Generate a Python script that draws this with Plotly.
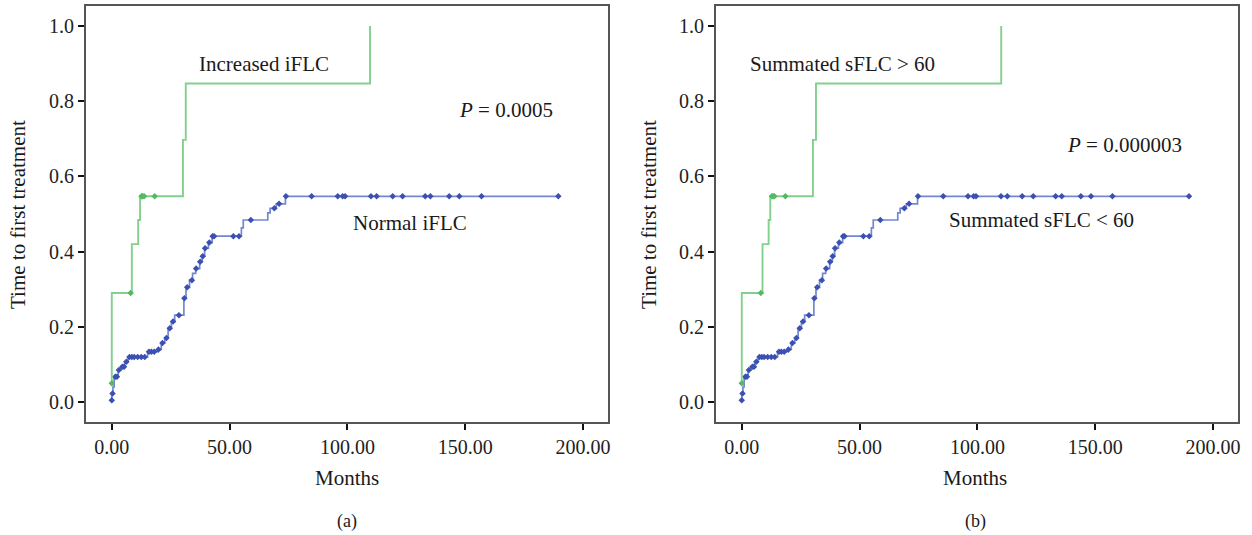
import numpy as np
import plotly.graph_objects as go

# ---------------- data ----------------
# Panel (a): increased iFLC (green) and normal iFLC (blue)
a_green_t = [0, 0, 8.5, 11.2, 12.0, 30.2, 31.4, 109.6]
a_green_y = [0.05, 0.29, 0.42, 0.484, 0.547, 0.697, 0.847, 1.0]
a_green_cens = [0, 8.0, 12.6, 13.0, 13.7, 18.2]

a_blue_t = [0, 0, 0.5, 1.0, 2.7, 3.8, 5.5, 6.9, 15.2, 19.6, 21.0, 22.5, 23.9, 25.3, 26.7,
            30.6, 31.5, 33.0, 34.3, 35.6, 37.3, 38.4, 39.4, 41.0, 42.6,
            55.0, 55.8, 66.2, 67.2, 69.8, 73.7, 189.5]
a_blue_y = [0.005, 0.023, 0.04, 0.067, 0.085, 0.094, 0.107, 0.12, 0.134, 0.14, 0.157, 0.17, 0.196, 0.214, 0.231,
            0.276, 0.305, 0.324, 0.342, 0.355, 0.373, 0.388, 0.409, 0.424, 0.441,
            0.463, 0.484, 0.503, 0.515, 0.527, 0.547, 0.547]
a_blue_cens = [0.0, 0.3, 1.5, 2.2, 3.0, 4.5, 5.2, 6.2, 7.5, 8.5, 9.5, 11.0, 12.5, 14.0, 15.8, 16.8, 18.0,
               19.8, 21.5, 23.2, 24.6, 26.0, 28.5, 30.8, 32.0, 34.0, 35.8, 37.5, 38.6, 39.6, 41.4,
               42.8, 43.4, 51.6, 54.0, 59.0, 69.0, 71.0, 73.9, 84.8, 95.9, 98.0, 99.0, 110.0, 112.4,
               119.2, 123.4, 133.0, 135.2, 143.2, 147.5, 156.9, 189.5]

# Panel (b): summated sFLC > 60 (green) and < 60 (blue)
b_green_t = [0, 0, 8.8, 11.4, 12.1, 30.2, 31.5, 110.1]
b_green_y = [0.05, 0.29, 0.42, 0.484, 0.547, 0.697, 0.847, 1.0]
b_green_cens = [0, 8.1, 12.8, 13.3, 13.8, 18.5]

b_blue_t = [0, 0, 0.5, 1.0, 2.7, 3.8, 5.5, 6.9, 15.2, 19.6, 21.0, 22.5, 23.9, 25.3, 26.7,
            30.6, 31.5, 33.0, 34.3, 35.6, 37.3, 38.4, 39.4, 41.0, 42.8,
            55.0, 55.8, 66.2, 67.2, 69.8, 74.6, 189.8]
b_blue_y = [0.005, 0.023, 0.04, 0.067, 0.085, 0.094, 0.107, 0.12, 0.134, 0.14, 0.157, 0.17, 0.196, 0.214, 0.231,
            0.276, 0.305, 0.324, 0.342, 0.355, 0.373, 0.388, 0.409, 0.424, 0.441,
            0.463, 0.484, 0.503, 0.515, 0.527, 0.547, 0.547]
b_blue_cens = [0.0, 0.3, 1.5, 2.2, 3.0, 4.5, 5.2, 6.2, 7.5, 8.5, 9.5, 11.0, 12.5, 14.0, 15.8, 16.8, 18.0,
               19.8, 21.5, 23.2, 24.6, 26.0, 28.5, 30.8, 32.0, 34.0, 35.8, 37.5, 38.6, 39.6, 41.4,
               43.0, 43.6, 51.6, 54.1, 58.8, 69.0, 71.0, 74.8, 85.5, 96.0, 98.4, 99.4, 110.0, 112.7,
               119.0, 123.7, 133.2, 135.8, 143.9, 148.2, 157.3, 189.8]

x_ticks = [0, 50, 100, 150, 200]
x_tick_labels = ["0.00", "50.00", "100.00", "150.00", "200.00"]
y_ticks = [0.0, 0.2, 0.4, 0.6, 0.8, 1.0]
y_tick_labels = ["0.0", "0.2", "0.4", "0.6", "0.8", "1.0"]

# ---------------- style ----------------
W, H = 1252, 535
FONT = "Liberation Serif"
GREEN_LINE = "rgb(130,208,140)"
GREEN_MARK = "rgb(85,185,100)"
BLUE_LINE = "rgb(115,135,208)"
BLUE_MARK = "rgb(60,80,178)"
AXIS = "#555555"

def step_value(ts, ys, t):
    ts = np.asarray(ts); ys = np.asarray(ys)
    idx = np.searchsorted(ts, t, side="left") - 1
    idx = np.clip(idx, 0, len(ys) - 1)
    return ys[idx]

fig = go.Figure()

def add_panel(xa, ya, gt, gy, gc, bt, by, bc):
    fig.add_trace(go.Scatter(x=bt, y=by, mode="lines", line=dict(color=BLUE_LINE, width=1.7, shape="hv"),
                             xaxis=xa, yaxis=ya, showlegend=False, hoverinfo="skip"))
    fig.add_trace(go.Scatter(x=bc, y=step_value(bt, by, bc), mode="markers",
                             marker=dict(symbol="diamond", size=5, color=BLUE_MARK),
                             xaxis=xa, yaxis=ya, showlegend=False, hoverinfo="skip"))
    fig.add_trace(go.Scatter(x=gt, y=gy, mode="lines", line=dict(color=GREEN_LINE, width=1.9, shape="hv"),
                             xaxis=xa, yaxis=ya, showlegend=False, hoverinfo="skip"))
    fig.add_trace(go.Scatter(x=gc, y=step_value(gt, gy, gc), mode="markers",
                             marker=dict(symbol="diamond", size=5, color=GREEN_MARK),
                             xaxis=xa, yaxis=ya, showlegend=False, hoverinfo="skip"))

add_panel("x", "y", a_green_t, a_green_y, a_green_cens, a_blue_t, a_blue_y, a_blue_cens)
add_panel("x2", "y2", b_green_t, b_green_y, b_green_cens, b_blue_t, b_blue_y, b_blue_cens)

ydom = [1 - 422 / H, 1 - 6 / H]
axis_common = dict(showgrid=False, zeroline=False, showline=True, linecolor=AXIS, linewidth=1.6,
                   mirror=True, ticks="outside", ticklen=6, tickwidth=1.6, tickcolor="#111111",
                   tickfont=dict(family=FONT, size=20, color="#222222"))
xr = [-11, 210.6]
yr = [-0.053, 1.053]
fig.update_layout(
    width=W, height=H, margin=dict(l=0, r=0, t=0, b=0),
    paper_bgcolor="white", plot_bgcolor="white",
    xaxis=dict(domain=[86 / W, 609 / W], range=xr, tickvals=x_ticks, ticktext=x_tick_labels,
               anchor="y", **axis_common),
    yaxis=dict(domain=ydom, range=yr, tickvals=y_ticks, ticktext=y_tick_labels, anchor="x", **axis_common),
    xaxis2=dict(domain=[717 / W, 1240 / W], range=xr, tickvals=x_ticks, ticktext=x_tick_labels,
                anchor="y2", **axis_common),
    yaxis2=dict(domain=ydom, range=yr, tickvals=y_ticks, ticktext=y_tick_labels, anchor="x2", **axis_common),
)

tf = dict(family=FONT, size=21, color="#1a1a1a")
ann = []
# in-plot labels
ann.append(dict(x=64.4, y=0.90, xref="x", yref="y", text="Increased iFLC", showarrow=False, font=tf))
ann.append(dict(x=167.4, y=0.777, xref="x", yref="y", text="<i>P</i> = 0.0005", showarrow=False, font=tf))
ann.append(dict(x=126.7, y=0.476, xref="x", yref="y", text="Normal iFLC", showarrow=False, font=tf))
ann.append(dict(x=42.8, y=0.90, xref="x2", yref="y2", text="Summated sFLC &gt; 60", showarrow=False, font=tf))
ann.append(dict(x=162.3, y=0.684, xref="x2", yref="y2", text="<i>P</i> = 0.000003", showarrow=False, font=tf))
ann.append(dict(x=127.1, y=0.484, xref="x2", yref="y2", text="Summated sFLC &lt; 60", showarrow=False, font=tf))
# axis titles and panel labels
for cx, lab, ytx in [(348, "(a)", 18), (977, "(b)", 650)]:
    ann.append(dict(x=cx / W, y=1 - 478 / H, xref="paper", yref="paper", text="Months",
                    showarrow=False, font=tf, xanchor="center", yanchor="middle"))
    ann.append(dict(x=cx / W, y=1 - 521 / H, xref="paper", yref="paper", text=lab,
                    showarrow=False, font=dict(family=FONT, size=18, color="#1a1a1a"),
                    xanchor="center", yanchor="middle"))
    ann.append(dict(x=ytx / W, y=1 - 214 / H, xref="paper", yref="paper", text="Time to first treatment",
                    showarrow=False, font=tf, textangle=-90, xanchor="center", yanchor="middle"))
fig.update_layout(annotations=ann)

fig.write_html("out.html")
